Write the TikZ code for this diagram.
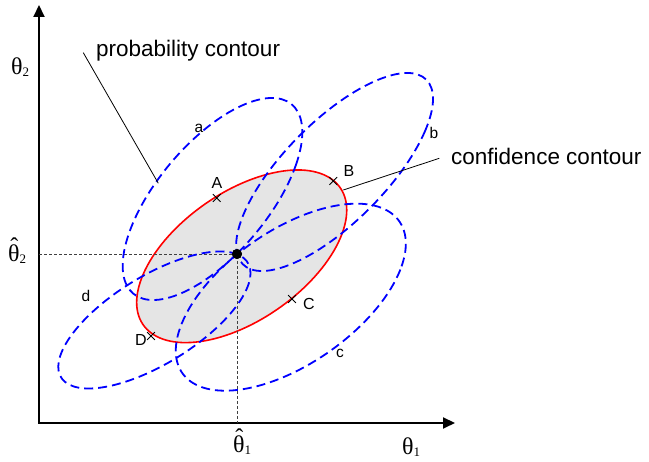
\documentclass[tikz,border=0pt]{standalone}
\usepackage{fontspec}
\setmainfont{Liberation Sans}
\newfontfamily\serifth{Liberation Serif}
\usetikzlibrary{arrows.meta,shapes.misc}
\definecolor{pblue}{RGB}{0,0,255}
\definecolor{cred}{RGB}{255,0,0}
\newcommand\thsub[1]{\raisebox{-2pt}{\fontsize{13}{13}\selectfont #1}}
\newcommand\hatth{\makebox[0pt][l]{\hspace{0.09em}\raisebox{0.3em}{ˆ}}θ}
\begin{document}
\begin{tikzpicture}[x=1pt,y=1pt,
  axis/.style={line width=2pt,line join=miter,{Triangle[length=12pt,width=11pt]}-{Triangle[length=12pt,width=11pt]}},
  guide/.style={line width=0.8pt,dash pattern=on 3pt off 2pt,black!75},
  probc/.style={pblue,line width=1.8pt,dash pattern=on 9pt off 5pt},
  confc/.style={cred,line width=1.6pt,fill=black!10},
  xmark/.style={cross out,draw,line width=0.8pt,minimum size=7pt,inner sep=0pt},
  ptr/.style={line width=0.8pt},
  big/.style={font=\fontsize{22.5}{24}\selectfont,anchor=base west,inner sep=0pt},
  th/.style={font=\serifth\fontsize{24}{26}\selectfont,anchor=base west,inner sep=0pt},
  ptl/.style={font=\fontsize{16}{18}\selectfont,inner sep=0pt},
  lcl/.style={font=\fontsize{15.5}{17}\selectfont,inner sep=0pt},
]
\useasboundingbox (0,0) rectangle (649,462);
% axes
\coordinate (O) at (39,39);
\coordinate (ytip) at (39,457);
\coordinate (xtip) at (455,39);
\draw[axis] (ytip) -- (O) -- (xtip);
% confidence contour
\draw[confc, cm={101.66,26.33,26.33,82.2,(241.7,205.7)}] (0,0) circle[radius=1];
% estimate point and guides
\node[circle,fill=black,inner sep=0pt,minimum size=10pt] (P) at (237,208) {};
\coordinate (G2) at (39,208);
\coordinate (G1) at (237,39);
\draw[guide] (G2) -- (P.center) -- (G1);
% probability contours
\draw[probc, cm={83.28,33.61,33.61,95.25,(212.5,263)}] (0,0) circle[radius=1];
\draw[probc, cm={89.98,39.84,39.84,90.63,(334.6,290)}] (0,0) circle[radius=1];
\draw[probc, cm={110.78,30.90,30.90,88.25,(290.8,164.8)}] (0,0) circle[radius=1];
\draw[probc, cm={91.52,29.33,29.33,61.90,(154.4,142)}] (0,0) circle[radius=1];
\node[circle,fill=black,inner sep=0pt,minimum size=10pt] at (P) {};
% markers
\node[xmark] (mA) at (216.7,264) {};
\node[xmark] (mB) at (333.3,281) {};
\node[xmark] (mC) at (292,163) {};
\node[xmark] (mD) at (151,126) {};
\node[ptl] (lA) at (217,279) {A};
\node[ptl] (lB) at (349,291) {B};
\node[ptl] (lC) at (309,158) {C};
\node[ptl] (lD) at (141,122) {D};
\node[lcl] (la) at (199,334) {a};
\node[lcl] (lb) at (434,329) {b};
\node[lcl] (lc) at (340,109) {c};
\node[lcl] (ld) at (86,166) {d};
% callouts
\node[big] (tp) at (96,405) {probability contour};
\node[big] (tc) at (451,297) {confidence contour};
\coordinate (p1) at (83.3,409.3);
\coordinate (p2) at (158.3,278.7);
\draw[ptr] (p1) -- (p2);
\coordinate (c1) at (439.3,303.7);
\coordinate (c2) at (343.3,272);
\draw[ptr] (c1) -- (c2);
% axis labels
\node[th] (t2) at (11,387) {θ\thsub{2}};
\node[th] (th2) at (8,200) {\hatth\thsub{2}};
\node[th] (th1) at (233,9) {\hatth\thsub{1}};
\node[th] (t1) at (402,7) {θ\thsub{1}};
\end{tikzpicture}
\end{document}
